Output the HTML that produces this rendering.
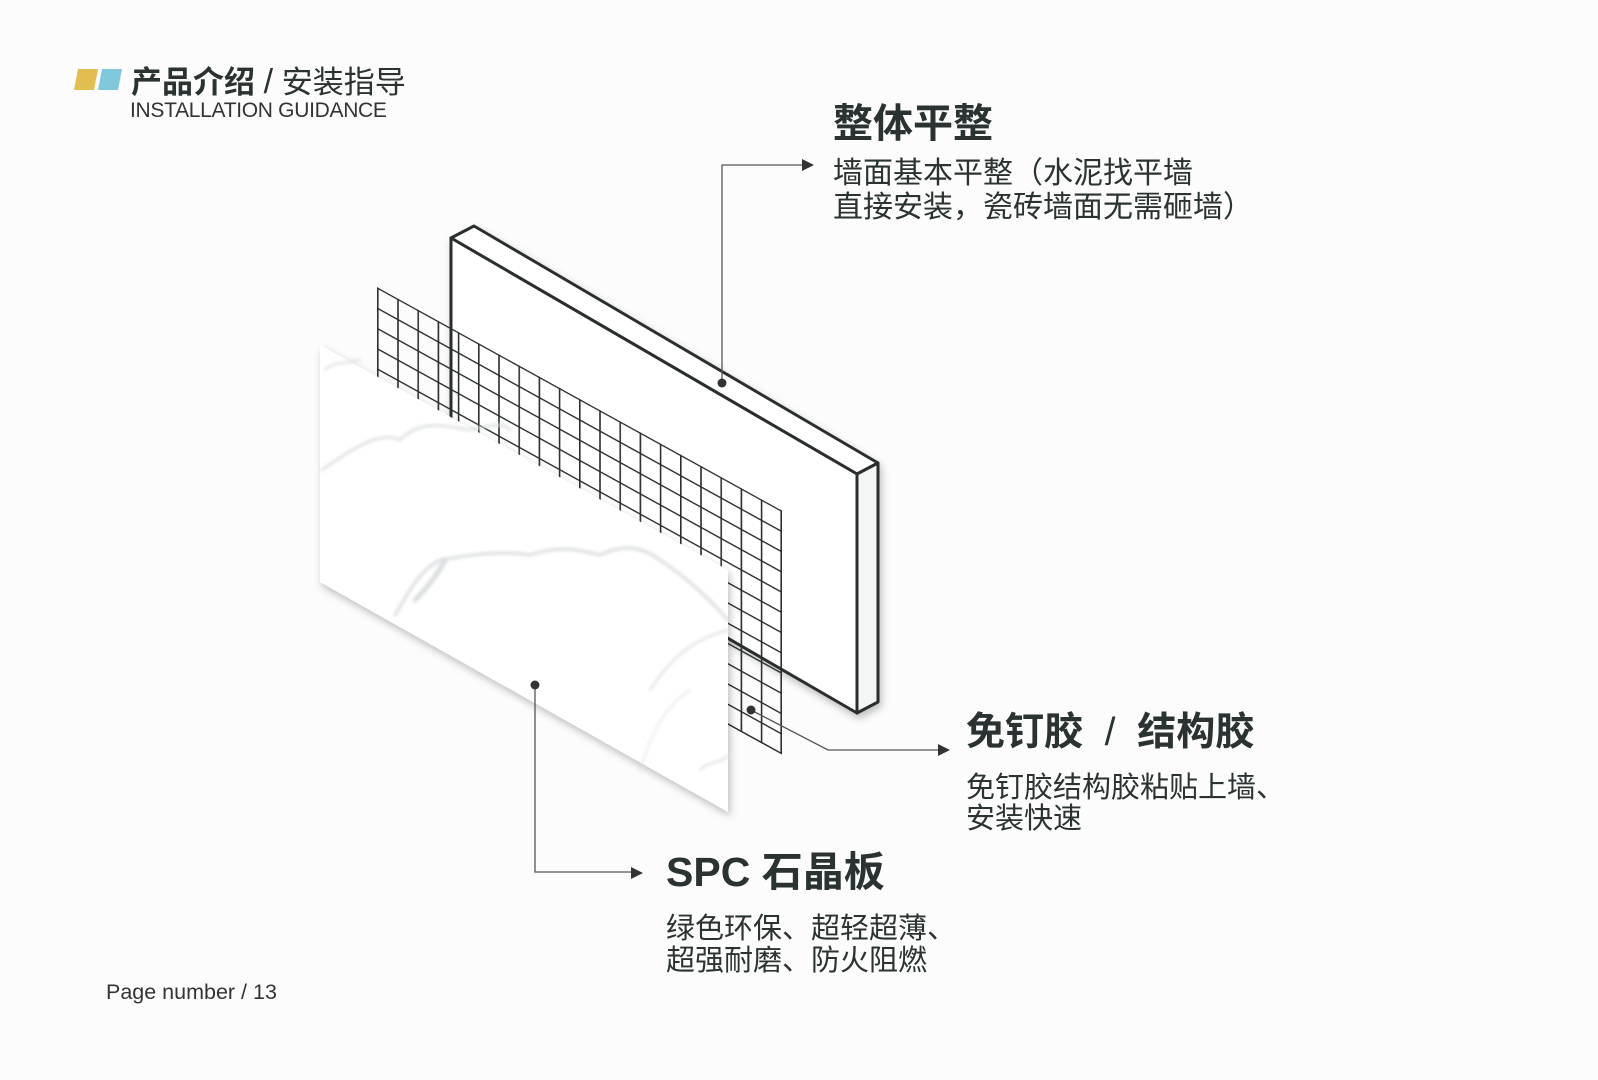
<!DOCTYPE html>
<html><head><meta charset="utf-8"><style>
body{margin:0;width:1598px;height:1080px;background:#fcfcfc;position:relative;overflow:hidden;font-family:"Liberation Sans","Noto Sans CJK SC",sans-serif;color:#2a3232}
.t{position:absolute;white-space:nowrap;line-height:1}
</style></head><body>
<svg width="1598" height="1080" style="position:absolute;left:0;top:0">
<defs>
<pattern id="g" width="20.2" height="20.25" patternUnits="userSpaceOnUse">
<path d="M0.8 0V20.25M0 0.8H20.2" stroke="#2b2f2f" stroke-width="1.6" fill="none"/>
</pattern>
<filter id="sh" x="-10%" y="-10%" width="130%" height="130%"><feDropShadow dx="2" dy="4" stdDeviation="4" flood-color="#000" flood-opacity="0.25"/></filter>
<filter id="bl"><feGaussianBlur stdDeviation="1.5"/></filter>
</defs>
<polygon points="78,69 98,69 94,90 74,90" fill="#e2bd52"/>
<polygon points="102,69 122,69 118,90 98,90" fill="#80c8dc"/>
<g filter="url(#sh)">
<polygon points="451,238 474,226 878,463 857,474" fill="#fff" stroke="#2b2f2f" stroke-width="3" stroke-linejoin="round"/>
<polygon points="857,474 878,463 878,702 857,713" fill="#f4f5f5" stroke="#2b2f2f" stroke-width="3" stroke-linejoin="round"/>
<polygon points="451,238 857,474 857,713 451,478" fill="#fff" stroke="#2b2f2f" stroke-width="3" stroke-linejoin="round"/>
</g>
<g transform="matrix(1,0.552,0,1,377,287)">
<rect x="0" y="0" width="405" height="244" fill="url(#g)"/>
<path d="M404.2 0V244M0 243.2H405" stroke="#2b2f2f" stroke-width="1.6"/>
</g>
<g filter="url(#sh)">
<polygon points="320,345 728,570 728,812 320,582" fill="#fff"/>
</g>
<g fill="none" stroke="#dadddf" stroke-linecap="round" filter="url(#bl)">
<path d="M322,470 C350,450 380,430 400,440 C420,420 440,425 470,430 C490,425 505,422 510,430" stroke-width="2.5"/>
<path d="M395,615 C410,590 420,570 440,560 C470,555 500,550 530,555 C560,545 580,550 600,555 C620,545 640,545 660,560 C690,580 710,600 728,620" stroke-width="3"/>
<path d="M415,600 C430,585 440,570 445,560" stroke-width="5"/>
<path d="M650,690 C670,660 690,640 728,630" stroke-width="2"/>
<path d="M640,770 C650,740 660,710 690,690" stroke-width="1.2"/>
<path d="M325,370 C335,360 345,365 360,360" stroke-width="2"/>
<path d="M700,770 C710,760 720,765 728,755" stroke-width="2"/>
</g>
<g stroke="#555" stroke-width="1.3" fill="none">
<path d="M722,383V165H806"/>
<path d="M535,685V872H634"/>
<path d="M751,710L828,750H941"/>
</g>
<g fill="#333">
<circle cx="722" cy="383" r="4.5"/>
<circle cx="535" cy="685" r="4.5"/>
<circle cx="751" cy="710" r="4.5"/>
<polygon points="814,165 802,159 802,171"/>
<polygon points="643,873 631,867 631,879"/>
<polygon points="950,750 938,744 938,756"/>
</g>
</svg>
<div class="t" style="left:131px;top:65px;font-size:31px"><b>产品介绍</b> <span style="font-size:34px;font-weight:300">/</span> 安装指导</div>
<div class="t" style="left:130px;top:100px;font-size:21px;letter-spacing:-0.3px;color:#333">INSTALLATION GUIDANCE</div>

<div class="t" style="left:833px;top:104px;font-size:40px;font-weight:bold">整体平整</div>
<div class="t" style="left:833px;top:157px;font-size:30px;line-height:34px">墙面基本平整（水泥找平墙<br>直接安装，瓷砖墙面无需砸墙）</div>

<div class="t" style="left:966px;top:713px;font-size:39px;font-weight:bold">免钉胶 <span style="font-weight:normal">&nbsp;/&nbsp;</span> 结构胶</div>
<div class="t" style="left:966px;top:773px;font-size:29px;line-height:31px">免钉胶结构胶粘贴上墙、<br>安装快速</div>

<div class="t" style="left:666px;top:852px;font-size:41px;font-weight:bold">SPC 石晶板</div>
<div class="t" style="left:666px;top:913px;font-size:29px;line-height:32px">绿色环保、超轻超薄、<br>超强耐磨、防火阻燃</div>

<div class="t" style="left:106px;top:982px;font-size:21.5px;color:#333">Page number / 13</div>
</body></html>
